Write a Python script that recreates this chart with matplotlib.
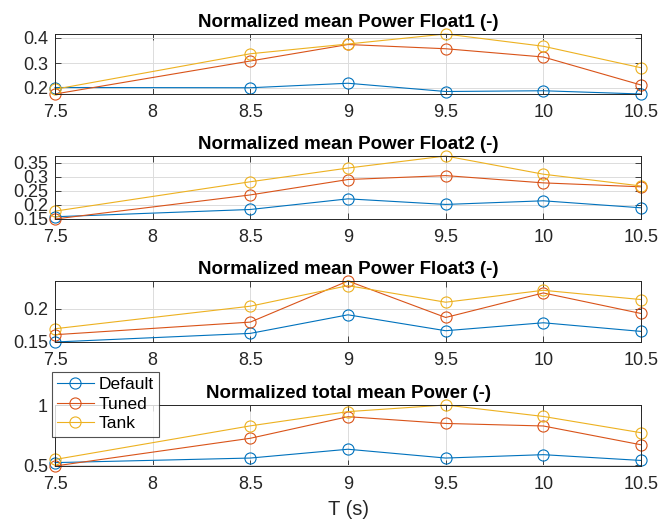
import matplotlib
matplotlib.use("Agg")
import matplotlib.pyplot as plt

plt.rcParams['font.family'] = ['Liberation Sans', 'DejaVu Sans']

T = [7.5, 8.5, 9.0, 9.5, 10.0, 10.5]
series_names = ["Default", "Tuned", "Tank"]
colors = ["#0072BD", "#D95319", "#EDB120"]

titles = [
    "Normalized mean Power Float1 (-)",
    "Normalized mean Power Float2 (-)",
    "Normalized mean Power Float3 (-)",
    "Normalized total mean Power (-)",
]

default_f1 = [0.202, 0.201, 0.219, 0.186, 0.189, 0.176]
tuned_f1 = [0.176, 0.308, 0.374, 0.357, 0.324, 0.212]
tank_f1 = [0.195, 0.337, 0.376, 0.416, 0.367, 0.281]

default_f2 = [0.157, 0.183, 0.221, 0.201, 0.214, 0.189]
tuned_f2 = [0.149, 0.235, 0.290, 0.304, 0.278, 0.264]
tank_f2 = [0.177, 0.282, 0.331, 0.374, 0.309, 0.267]

default_f3 = [0.150, 0.163, 0.191, 0.167, 0.179, 0.166]
tuned_f3 = [0.161, 0.180, 0.242, 0.187, 0.224, 0.193]
tank_f3 = [0.170, 0.204, 0.235, 0.210, 0.228, 0.214]

default_tot = [0.522, 0.560, 0.633, 0.560, 0.588, 0.540]
tuned_tot = [0.494, 0.724, 0.903, 0.847, 0.826, 0.670]
tank_tot = [0.548, 0.827, 0.945, 1.000, 0.905, 0.770]

xticks = [7.5, 8, 8.5, 9, 9.5, 10, 10.5]
xticklabels = ["7.5", "8", "8.5", "9", "9.5", "10", "10.5"]
yticks_list = [
    [0.2, 0.3, 0.4],
    [0.15, 0.2, 0.25, 0.3, 0.35],
    [0.15, 0.2],
    [0.5, 1.0],
]
yticklabels_list = [
    ["0.2", "0.3", "0.4"],
    ["0.15", "0.2", "0.25", "0.3", "0.35"],
    ["0.15", "0.2"],
    ["0.5", "1"],
]

panels = [
    [default_f1, tuned_f1, tank_f1],
    [default_f2, tuned_f2, tank_f2],
    [default_f3, tuned_f3, tank_f3],
    [default_tot, tuned_tot, tank_tot],
]

W, H = 660, 523
fig = plt.figure(figsize=(W / 100, H / 100), dpi=100)

# axes pixel boxes (left, top, right, bottom)
boxes = [(55, 34, 641, 94), (55, 156, 641, 219), (55, 281, 641, 342), (55, 405, 641, 466)]
axc = "#262626"

axes = []
for k, (l, t, r, b) in enumerate(boxes):
    ax = fig.add_axes([l / W, 1 - b / H, (r - l) / W, (b - t) / H])
    data = panels[k]
    for s, (vals, c, name) in enumerate(zip(data, colors, series_names)):
        ax.plot(T, vals, color=c, lw=0.8, marker='o', markersize=8,
                markerfacecolor='none', markeredgewidth=0.8, label=name, clip_on=False)
    allv = [v for vals in data for v in vals]
    ax.set_ylim(min(allv), max(allv))
    ax.set_xlim(7.5, 10.5)
    ax.set_xticks(xticks)
    ax.set_xticklabels(xticklabels)
    ax.set_yticks(yticks_list[k])
    ax.set_yticklabels(yticklabels_list[k])
    ax.grid(True, color="#dcdcdc", lw=0.7)
    ax.set_axisbelow(True)
    ax.tick_params(direction='in', top=True, right=True, length=4, width=0.6,
                   colors=axc, labelsize=13)
    ax.tick_params(axis='x', pad=7)
    ax.tick_params(axis='y', pad=5)
    for sp in ax.spines.values():
        sp.set_color(axc)
        sp.set_linewidth(0.7)
    ax.set_title(titles[k], fontsize=13.5, fontweight='bold', pad=5, color='black')
    axes.append(ax)

axes[3].set_xlabel("T (s)", fontsize=14.5, color=axc, labelpad=5)

leg = axes[3].legend(loc='upper left', bbox_to_anchor=(52 / W, 1 - 372 / H),
                     bbox_transform=fig.transFigure, fontsize=12.5, frameon=True,
                     fancybox=False, edgecolor=axc, handlelength=2.1,
                     borderpad=0.3, labelspacing=0.25, handletextpad=0.3,
                     borderaxespad=0)
leg.get_frame().set_linewidth(0.8)
leg.set_zorder(10)

fig.savefig("out.png", dpi=100)
